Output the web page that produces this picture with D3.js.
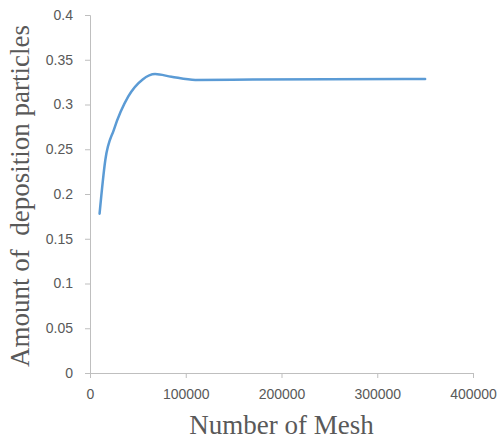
<!DOCTYPE html>
<html>
<head>
<meta charset="utf-8">
<script src="https://cdn.jsdelivr.net/npm/d3@7"></script>
<style>
  html, body { margin: 0; padding: 0; background: #fff; }
  svg { display: block; }
</style>
</head>
<body>
<svg id="chart" width="500" height="441"></svg>
<script>
const meshCounts = [10000, 16000, 25000, 40000, 55000, 68000, 85000, 110000, 170000, 350000];
const depositionValues = [0.178, 0.238, 0.272, 0.309, 0.328, 0.334, 0.331, 0.3275, 0.3278, 0.3285];
const xTickValues = [0, 100000, 200000, 300000, 400000];
const yTickValues = [0, 0.05, 0.1, 0.15, 0.2, 0.25, 0.3, 0.35, 0.4];
const xTitle = "Number of Mesh";
const yTitle = "Amount of  deposition particles";

const svg = d3.select("#chart");
const margin = { left: 90, right: 27, top: 15, bottom: 68 };
const W = 500, H = 441;

const x = d3.scaleLinear().domain([0, 400000]).range([margin.left, W - margin.right]);
const y = d3.scaleLinear().domain([0, 0.4]).range([H - margin.bottom, margin.top]);

const axisColor = "#bfbfbf";
const labelColor = "#595959";

// y axis
const yAxis = svg.append("g")
  .attr("transform", `translate(${margin.left},0)`)
  .call(d3.axisLeft(y).tickValues(yTickValues).tickSize(5).tickPadding(12)
    .tickFormat(d => d3.format("")(+d.toFixed(2))));
yAxis.select(".domain").attr("stroke", axisColor);
yAxis.selectAll(".tick line").attr("stroke", axisColor);
yAxis.selectAll(".tick text")
  .attr("fill", labelColor)
  .style("font-family", "'Liberation Sans', Arial, sans-serif")
  .style("font-size", "14px");

// x axis
const xAxis = svg.append("g")
  .attr("transform", `translate(0,${y(0)})`)
  .call(d3.axisBottom(x).tickValues(xTickValues).tickSize(5).tickPadding(11)
    .tickFormat(d3.format("d")));
xAxis.select(".domain").attr("stroke", axisColor);
xAxis.selectAll(".tick line").attr("stroke", axisColor);
xAxis.selectAll(".tick text")
  .attr("fill", labelColor)
  .style("font-family", "'Liberation Sans', Arial, sans-serif")
  .style("font-size", "14px");

// line
const data = meshCounts.map((m, i) => ({ x: m, y: depositionValues[i] }));
const line = d3.line()
  .x(d => x(d.x))
  .y(d => y(d.y))
  .curve(d3.curveMonotoneX);

svg.append("path")
  .datum(data)
  .attr("fill", "none")
  .attr("stroke", "#5b9bd5")
  .attr("stroke-width", 2.5)
  .attr("stroke-linecap", "round")
  .attr("d", line);

// axis titles
svg.append("text")
  .attr("x", (x.range()[0] + x.range()[1]) / 2)
  .attr("y", 434)
  .attr("text-anchor", "middle")
  .attr("fill", labelColor)
  .style("font-family", "'Liberation Serif', 'Times New Roman', serif")
  .style("font-size", "27px")
  .text(xTitle);

svg.append("text")
  .attr("transform", `translate(29,${(y(0) + y(0.4)) / 2 + 2}) rotate(-90)`)
  .attr("text-anchor", "middle")
  .attr("fill", labelColor)
  .style("font-family", "'Liberation Serif', 'Times New Roman', serif")
  .style("font-size", "27px")
  .style("white-space", "pre")
  .text(yTitle);
</script>
</body>
</html>
